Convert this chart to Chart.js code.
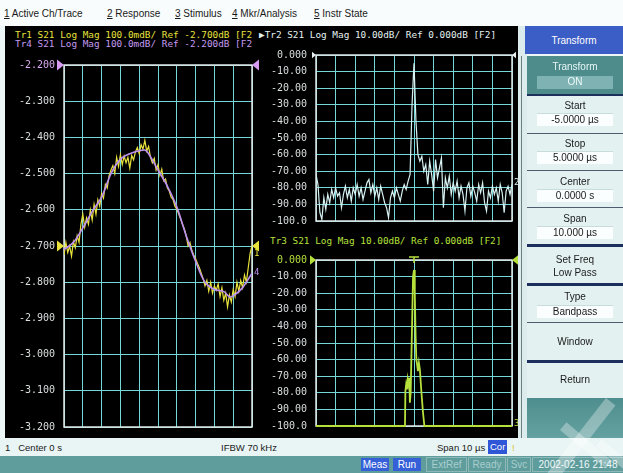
<!DOCTYPE html>
<html>
<head>
<meta charset="utf-8">
<script src="https://cdn.jsdelivr.net/npm/chart.js@4.4.1/dist/chart.umd.min.js"></script>
<style>
  body{margin:0;width:623px;height:473px;overflow:hidden;position:relative;background:#eef7f7;font-family:"Liberation Sans",Arial,sans-serif}
  .a{position:absolute}
  #menu{left:0;top:0;width:623px;height:26px;background:#f8fcfc;font-size:10px;color:#1a1a1a}
  #menu span{position:absolute;top:8px;white-space:pre}
  #screen{left:5px;top:26px;width:513px;height:412px;background:#000}
  .hdr{font-family:"DejaVu Sans Mono",monospace;font-size:9.4px;line-height:10px;white-space:pre}
  canvas{position:absolute}
  .sk{position:absolute;left:527px;width:96px;background:#e3f1f1;color:#1a1a1a;font-size:10px;text-align:center}
  .sk .t{position:absolute;left:0;width:96px;text-align:center}
  .sk .v{position:absolute;left:10px;width:76px;height:12px;line-height:12px;background:#fbfefe;border-top:1px solid #c9dcdc;text-align:center}
  .ln{position:absolute;left:527px;width:96px}
  #status{left:0;top:438px;width:623px;height:18px;background:#e9f5f5;font-size:9.5px;color:#1a1a1a}
  #status span{position:absolute;top:4px;white-space:pre}
  #bar{left:0;top:456px;width:623px;height:17px;background:#5f9d9d;font-size:10px}
  #bar span{position:absolute;top:2px;height:13px;line-height:13px;text-align:center;white-space:pre}
  .wm{position:absolute;background:rgba(255,255,255,0.32);transform-origin:0 0}
</style>
</head>
<body>
<div id="menu" class="a">
  <span style="left:4px"><u>1</u> Active Ch/Trace</span>
  <span style="left:107px"><u>2</u> Response</span>
  <span style="left:175px"><u>3</u> Stimulus</span>
  <span style="left:232px"><u>4</u> Mkr/Analysis</span>
  <span style="left:314px"><u>5</u> Instr State</span>
</div>
<div id="screen" class="a"></div>

<div class="a hdr" style="left:15px;top:30px;color:#e8e23c">Tr1 S21 Log Mag 100.0mdB/ Ref -2.700dB [F2</div>
<div class="a hdr" style="left:15px;top:39px;color:#c49af0">Tr4 S21 Log Mag 100.0mdB/ Ref -2.200dB [F2</div>
<div class="a hdr" style="left:259px;top:30px;color:#e6f2f2">▶Tr2 S21 Log Mag 10.00dB/ Ref 0.000dB [F2]</div>
<div class="a hdr" style="left:270px;top:236px;color:#b6e03c">Tr3 S21 Log Mag 10.00dB/ Ref 0.000dB [F2]</div>

<canvas id="cSweep" width="262" height="392" style="left:0;top:50px"></canvas>
<canvas id="cTime" width="262" height="196" style="left:258px;top:40px"></canvas>
<canvas id="cGate" width="262" height="196" style="left:258px;top:245px"></canvas>

<!-- softkey panel -->
<div class="a" style="left:518px;top:26px;width:9px;height:430px;background:#dcecec"></div>
<div class="a" style="left:521px;top:56px;width:1px;height:400px;background:#6c8080"></div>
<div class="a" style="left:525px;top:26px;width:98px;height:28px;background:#3b5dc6;color:#fff;font-size:10px;line-height:30px;text-align:center">Transform</div>
<div class="sk" style="top:56px;height:38px;background:#4e8c8c;color:#e6f6f6">
  <div class="t" style="top:5px">Transform</div>
  <div class="v" style="top:20px;height:13px;background:#7fb3b3;border:none;color:#eefafa">ON</div>
</div>
<div class="ln" style="top:94px;height:2px;background:#1d2f5c"></div>
<div class="sk" style="top:96px;height:37px"><div class="t" style="top:4px">Start</div><div class="v" style="top:17px">-5.0000 µs</div></div>
<div class="ln" style="top:133px;height:1px;background:#4d5d6d"></div>
<div class="sk" style="top:134px;height:36px"><div class="t" style="top:4px">Stop</div><div class="v" style="top:17px">5.0000 µs</div></div>
<div class="ln" style="top:170px;height:1px;background:#4d5d6d"></div>
<div class="sk" style="top:171px;height:36px"><div class="t" style="top:5px">Center</div><div class="v" style="top:18px">0.0000 s</div></div>
<div class="ln" style="top:207px;height:1px;background:#4d5d6d"></div>
<div class="sk" style="top:208px;height:36px"><div class="t" style="top:5px">Span</div><div class="v" style="top:18px">10.000 µs</div></div>
<div class="ln" style="top:244px;height:3px;background:#1d2f5c"></div>
<div class="sk" style="top:247px;height:36px"><div class="t" style="top:7px">Set Freq</div><div class="t" style="top:20px">Low Pass</div></div>
<div class="ln" style="top:283px;height:3px;background:#1d2f5c"></div>
<div class="sk" style="top:286px;height:36px"><div class="t" style="top:5px">Type</div><div class="v" style="top:19px">Bandpass</div></div>
<div class="ln" style="top:322px;height:1px;background:#4d5d6d"></div>
<div class="sk" style="top:323px;height:37px"><div class="t" style="top:13px">Window</div></div>
<div class="ln" style="top:360px;height:3px;background:#1d2f5c"></div>
<div class="sk" style="top:363px;height:35px"><div class="t" style="top:11px">Return</div></div>
<div class="a" style="left:527px;top:398px;width:96px;height:58px;background:linear-gradient(180deg,#4f8e8e,#6ea9a9)"></div>

<div id="status" class="a">
  <span style="left:5px">1   Center 0 s</span>
  <span style="left:221px">IFBW 70 kHz</span>
  <span style="left:437px">Span 10 µs</span>
  <span style="left:488px;top:2px;height:14px;line-height:14px;padding:0 2px;background:#2f56d6;color:#fff">Cor</span>
  <span style="left:512px;color:#d8c020">!</span>
</div>
<div id="bar" class="a">
  <span style="left:361px;width:28px;background:#3560d8;color:#fff">Meas</span>
  <span style="left:393px;width:28px;background:#3560d8;color:#fff">Run</span>
  <span style="left:426px;width:39px;border:1px solid #8fb9b9;top:1px;color:#a9cdcd">ExtRef</span>
  <span style="left:468px;width:36px;border:1px solid #8fb9b9;top:1px;color:#a9cdcd">Ready</span>
  <span style="left:507px;width:22px;border:1px solid #8fb9b9;top:1px;color:#a9cdcd">Svc</span>
  <span style="left:532px;width:90px;border:1px solid #8fb9b9;top:1px;color:#eef8f8">2002-02-16 21:48</span>
</div>
<div class="wm" style="left:606px;top:398px;width:12px;height:100px;transform:rotate(38deg)"></div>
<div class="wm" style="left:560px;top:430px;width:10px;height:60px;transform:rotate(-50deg)"></div>
<div class="wm" style="left:596px;top:446px;width:9px;height:40px;transform:rotate(-50deg)"></div>

<script>
// Tr1 S21 log mag sweep (dB), one reading per sweep point 0..100
const tr1Db = [
  -2.725,-2.690,-2.718,-2.700,-2.728,-2.688,-2.705,-2.672,-2.690,-2.640,
  -2.612,-2.648,-2.622,-2.640,-2.600,-2.628,-2.585,-2.612,-2.572,-2.590,
  -2.555,-2.568,-2.530,-2.540,-2.505,-2.490,-2.478,-2.500,-2.455,-2.480,
  -2.448,-2.475,-2.452,-2.470,-2.455,-2.485,-2.450,-2.462,-2.440,-2.428,
  -2.445,-2.420,-2.432,-2.408,-2.438,-2.425,-2.455,-2.470,-2.458,-2.490,
  -2.475,-2.505,-2.488,-2.520,-2.515,-2.540,-2.548,-2.565,-2.572,-2.590,
  -2.598,-2.612,-2.625,-2.640,-2.652,-2.672,-2.700,-2.690,-2.712,-2.725,
  -2.735,-2.748,-2.760,-2.775,-2.790,-2.810,-2.795,-2.825,-2.800,-2.830,
  -2.810,-2.822,-2.805,-2.840,-2.815,-2.850,-2.830,-2.868,-2.835,-2.855,
  -2.820,-2.840,-2.800,-2.825,-2.795,-2.815,-2.780,-2.800,-2.760,-2.720,
  -2.700
];
// Tr4 S21 (smoothed) readings at selected sweep points
const tr4Point = [0,5,10,15,20,25,30,35,40,43,45,50,55,60,65,70,75,80,85,88,90,95,100];
const tr4Db = [-2.710,-2.690,-2.650,-2.605,-2.565,-2.500,-2.460,-2.445,-2.437,-2.435,-2.445,-2.490,
               -2.535,-2.592,-2.672,-2.742,-2.800,-2.820,-2.826,-2.840,-2.838,-2.815,-2.775];

// Tr2 time-domain response (dB), -5 us .. +5 us in 0.1 us steps
const tr2StartUs = -5, tr2StepUs = 0.1;
const tr2Db = [
  -72,-78,-95,-99,-86,-93,-84,-89,-81,-86,
  -80,-85,-83,-92,-84,-79,-86,-81,-88,-80,
  -84,-78,-85,-80,-87,-82,-77,-75,-83,-78,
  -85,-80,-87,-79,-84,-89,-92,-98,-86,-82,
  -86,-80,-84,-88,-82,-78,-81,-76,-72,-30,
  -5,-40,-60,-64,-61,-70,-66,-78,-64,-72,
  -82,-63,-74,-68,-62,-92,-74,-80,-73,-84,
  -77,-82,-76,-86,-79,-84,-94,-80,-77,-85,
  -79,-83,-88,-78,-83,-77,-89,-94,-82,-86,
  -79,-84,-80,-88,-78,-83,-95,-82,-79,-84,
  -78
];

// Tr3 gated time-domain response
const tr3TimeUs = [-5,-0.46,-0.44,-0.40,-0.36,-0.32,-0.28,-0.24,-0.21,-0.17,-0.10,-0.05,0,0.04,0.08,0.12,0.16,0.20,0.25,0.30,0.38,0.46,0.53,5];
const tr3Db =     [-100,-100,-79,-75,-78,-72,-75,-71,-86,-80,-40,-10,-6,-20,-45,-60,-63,-67,-62,-66,-80,-92,-100,-100];

// axis tick ranges
const sweepDbTicks = {min:-3.2, max:-2.2, step:0.1};
const timeDbTicks = {min:-100, max:0, step:10};
const timeSpanUs = {min:-5, max:5, step:1};

const GRID = '#74d8d8';
const FRAME = '#e4e8e8';
const LABEL = '#d9dede';
const YELLOW = '#e8e23c';
const PURPLE = '#bd8ff0';
const WHITE_TR = '#d6f2f2';
const GREEN = '#b6e03c';

// plot frame, reference-level triangles, trace numbers and markers
const screenDecor = {
  id: 'screenDecor',
  beforeDatasetsDraw(chart, args, o) {
    const {ctx, chartArea: a} = chart;
    ctx.save();
    ctx.strokeStyle = FRAME;
    ctx.lineWidth = 1.5;
    ctx.strokeRect(a.left, a.top, a.right - a.left, a.bottom - a.top);
    ctx.restore();
  },
  afterDatasetsDraw(chart, args, o) {
    const {ctx, chartArea: a, scales} = chart;
    const y = scales.y, x = scales.x;
    ctx.save();
    (o.refs || []).forEach(r => {
      const py = y.getPixelForValue(r.value);
      const s = r.size;
      ctx.fillStyle = r.color;
      ctx.beginPath();
      ctx.moveTo(a.left - s, py - s * 0.8); ctx.lineTo(a.left, py); ctx.lineTo(a.left - s, py + s * 0.8);
      ctx.closePath(); ctx.fill();
      ctx.beginPath();
      ctx.moveTo(a.right + s, py - s * 0.8); ctx.lineTo(a.right, py); ctx.lineTo(a.right + s, py + s * 0.8);
      ctx.closePath(); ctx.fill();
    });
    ctx.font = '9px "DejaVu Sans Mono"';
    ctx.textBaseline = 'middle';
    (o.traceIds || []).forEach(t => {
      ctx.fillStyle = t.color;
      ctx.fillText(t.text, a.right + 2, y.getPixelForValue(t.value) + (t.dy || 0));
    });
    (o.markers || []).forEach(m => {
      const px = x.getPixelForValue(m.x), py = y.getPixelForValue(m.y);
      ctx.strokeStyle = m.color; ctx.lineWidth = 1.5;
      ctx.beginPath();
      ctx.moveTo(px - 5, py - 3); ctx.lineTo(px + 5, py - 3);
      ctx.moveTo(px, py - 3); ctx.lineTo(px, py + 3);
      ctx.stroke();
    });
    ctx.restore();
  }
};
Chart.register(screenDecor);

function baseOptions(xr, yr, yWidth, pad, fmt, tickColor, decor) {
  return {
    responsive: false, animation: false, devicePixelRatio: 1,
    layout: {padding: pad},
    plugins: {legend: {display: false}, tooltip: {enabled: false}, screenDecor: decor},
    elements: {point: {radius: 0}, line: {tension: 0}},
    scales: {
      x: {
        type: 'linear', min: xr.min, max: xr.max,
        ticks: {display: false, stepSize: xr.step},
        grid: {color: GRID, lineWidth: 1, drawTicks: false},
        border: {display: false},
        afterFit: s => { s.height = 0; }
      },
      y: {
        type: 'linear', min: yr.min, max: yr.max,
        ticks: {stepSize: yr.step, padding: 9, color: tickColor, callback: fmt,
                font: {family: 'DejaVu Sans Mono', size: 10}},
        grid: {color: GRID, lineWidth: 1, drawTicks: false},
        border: {display: false},
        afterFit: s => { s.width = yWidth; }
      }
    }
  };
}

// Tr1 / Tr4 sweep
new Chart(document.getElementById('cSweep'), {
  type: 'line',
  data: {datasets: [
    {label: 'Tr4', data: tr4Point.map((p, i) => ({x: p, y: tr4Db[i]})), borderColor: PURPLE, borderWidth: 1.6, tension: 0.35},
    {label: 'Tr1', data: tr1Db.map((v, i) => ({x: i, y: v})), borderColor: YELLOW, borderWidth: 1.2}
  ]},
  options: baseOptions({min: 0, max: 100, step: 10}, sweepDbTicks, 64,
    {left: 0, top: 10, right: 10, bottom: 12},
    v => v.toFixed(3),
    c => Math.abs(c.tick.value + 2.2) < 1e-6 ? '#d9a8f0' : LABEL,
    {refs: [{value: -2.2, color: '#d79cf2', size: 7}, {value: -2.7, color: YELLOW, size: 7}],
     traceIds: [{text: '1', value: tr1Db[tr1Db.length - 1], color: YELLOW, dy: 8},
                {text: '4', value: tr4Db[tr4Db.length - 1], color: PURPLE, dy: 0}]})
});

const dbFmt = v => v === 0 ? '0.000' : (v <= -100 ? v.toFixed(1) : v.toFixed(2));

// Tr2 time domain
new Chart(document.getElementById('cTime'), {
  type: 'line',
  data: {datasets: [
    {label: 'Tr2', data: tr2Db.map((v, i) => ({x: tr2StartUs + i * tr2StepUs, y: v})), borderColor: WHITE_TR, borderWidth: 1.2}
  ]},
  options: baseOptions(timeSpanUs, timeDbTicks, 58,
    {left: 0, top: 9, right: 8, bottom: 9},
    dbFmt, LABEL,
    {refs: [{value: 0, color: '#e8f0f0', size: 4}],
     traceIds: [{text: '2', value: tr2Db[tr2Db.length - 1], color: WHITE_TR, dy: -2}]})
});

// Tr3 gated time domain; the floor sits on the bottom edge, so keep it unclipped
new Chart(document.getElementById('cGate'), {
  type: 'line',
  data: {datasets: [
    {label: 'Tr3', data: tr3TimeUs.map((t, i) => ({x: t, y: tr3Db[i]})), borderColor: GREEN, borderWidth: 1.8, clip: 3}
  ]},
  options: baseOptions(timeSpanUs, timeDbTicks, 58,
    {left: 0, top: 9, right: 8, bottom: 9},
    dbFmt, c => c.tick.value === 0 ? GREEN : LABEL,
    {refs: [{value: 0, color: GREEN, size: 6}],
     traceIds: [{text: '3', value: tr3Db[tr3Db.length - 1], color: GREEN, dy: -2}],
     markers: [{x: 0, y: 0, color: GREEN}]})
});
</script>
</body>
</html>
